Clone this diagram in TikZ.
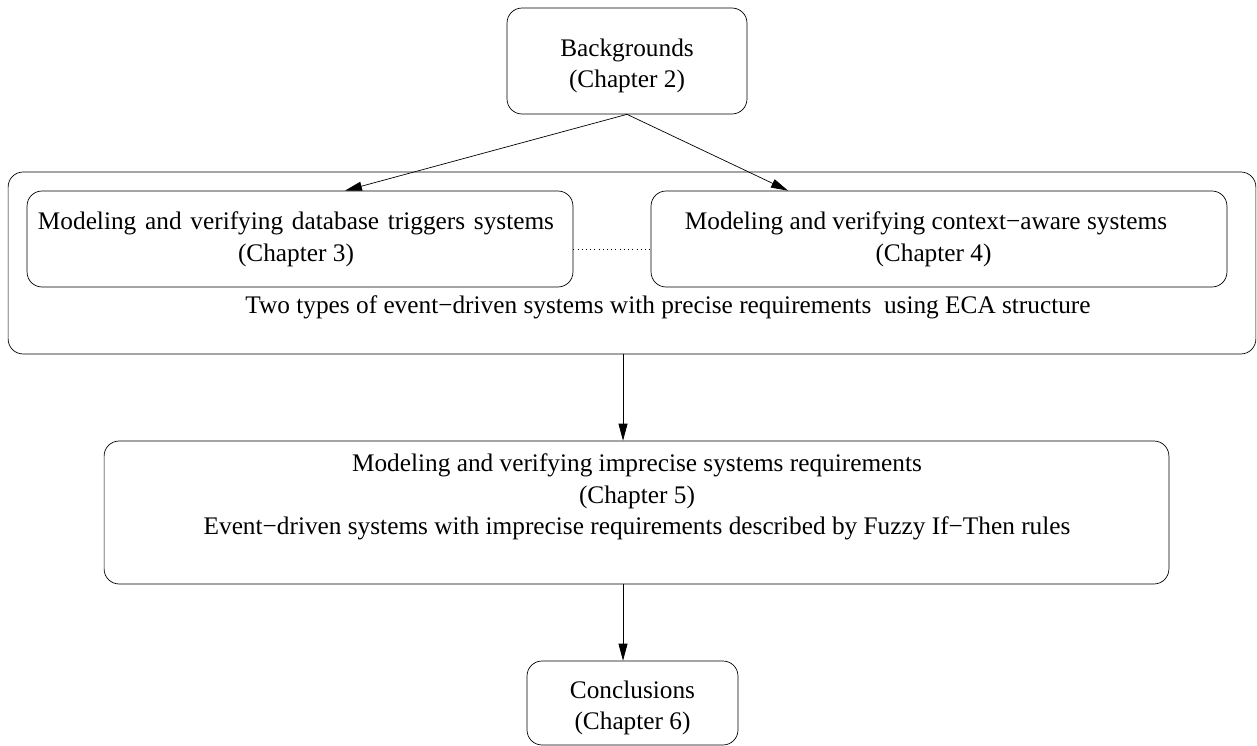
\documentclass[tikz,border=0pt]{standalone}
\usepackage{fontspec}
\setmainfont{Liberation Serif}
\usetikzlibrary{arrows.meta}
\tikzset{
  box/.style={draw, rounded corners=0.3cm, inner sep=0pt},
  txt/.style={inner sep=0pt, align=center, font=\fontsize{14.4}{18}\selectfont},
  link/.style={-{Triangle[length=0.34cm,width=0.18cm]}}
}
\begin{document}
\begin{tikzpicture}[x=0.02cm, y=-0.02cm]
        \useasboundingbox (0,0) rectangle (1257,746);
        % boxes
        \node[box, minimum width=4.8cm, minimum height=2.12cm] (bg) at (627,61) {};
        \node[txt] (bgtext) at (627,66) {Backgrounds\\(Chapter 2)};
        \node[box, minimum width=24.96cm, minimum height=3.64cm] (eca) at (632,263) {};
        \node[box, minimum width=10.92cm, minimum height=1.92cm] (dbt) at (300,239) {};
        \node[txt] (dbttext) at (296,239)
            {{\spaceskip=5pt Modeling and verifying database triggers systems}\\(Chapter 3)};
        \node[box, minimum width=11.52cm, minimum height=1.92cm] (cas) at (939,239) {};
        \node[txt] (castext) at (926,239)
            {Modeling and verifying context−aware systems\\\hspace*{0.3cm}(Chapter 4)};
        \node[txt] (ecanote) at (668,307)
            {Two types of event−driven systems with precise requirements\ \ using ECA structure};
        \node[box, minimum width=21.3cm, minimum height=2.86cm] (fuz) at (636.5,512.5) {};
        \node[txt] (fuznote) at (637,497)
            {Modeling and verifying imprecise systems requirements\\(Chapter 5)\\
             Event−driven systems with imprecise requirements described by Fuzzy If−Then rules};
        \node[box, minimum width=4.22cm, minimum height=1.68cm] (concl) at (632.5,703) {};
        \node[txt] (concltext) at (632.5,708) {Conclusions\\(Chapter 6)};
        % connectors
        \draw[link] (bg.south) -- ([xshift=0.9cm]dbt.north);
        \draw[link] (bg.south) -- ([xshift=-3.02cm]cas.north);
        \draw[dotted] ([yshift=-0.2cm]dbt.east) -- ([yshift=-0.2cm]cas.west);
        \draw[link] ([xshift=-0.18cm]eca.south) -- ([xshift=-0.18cm]eca.south |- fuz.north);
        \draw[link] ([xshift=-0.19cm]concl.north |- fuz.south) -- ([xshift=-0.19cm]concl.north);
\end{tikzpicture}
\end{document}
